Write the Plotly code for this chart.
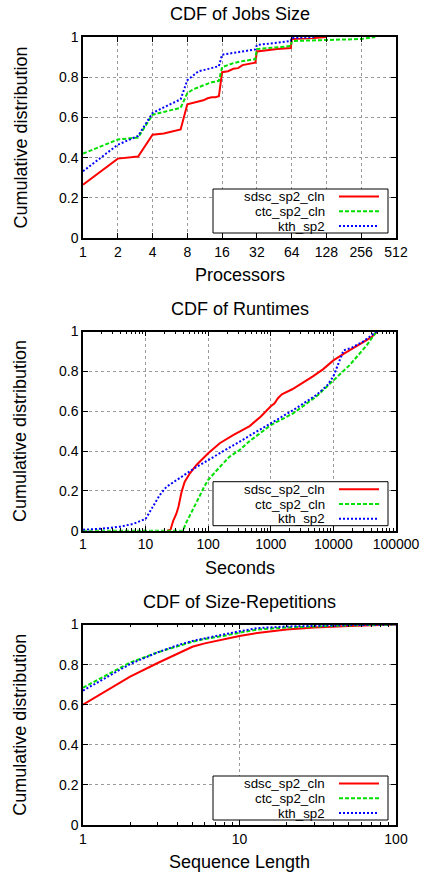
import math
import plotly.graph_objects as go

W, H = 424, 873

# ---------------- data ----------------
series_names = ["sdsc_sp2_cln", "ctc_sp2_cln", "kth_sp2"]

# CDF of Jobs Size (processors)
size_sdsc_x = [1, 2, 3, 4, 5, 6, 7, 8, 9, 10, 11, 12, 13, 14, 15, 16, 17, 18, 20, 22, 24, 28, 31, 32, 40, 48, 63, 64, 100, 128]
size_sdsc_y = [0.265, 0.395, 0.405, 0.514, 0.52, 0.53, 0.54, 0.665, 0.672, 0.68, 0.685, 0.695, 0.70, 0.70, 0.705, 0.825,
               0.828, 0.83, 0.842, 0.845, 0.86, 0.868, 0.872, 0.928, 0.935, 0.94, 0.945, 0.99, 0.995, 1.0]
size_ctc_x = [1, 2, 3, 4, 5, 6, 7, 8, 9, 10, 11, 12, 13, 14, 15, 16, 18, 20, 24, 28, 31, 32, 48, 63, 64, 128, 256, 338]
size_ctc_y = [0.42, 0.49, 0.50, 0.613, 0.627, 0.64, 0.648, 0.72, 0.74, 0.75, 0.76, 0.77, 0.775, 0.778, 0.782, 0.85,
              0.86, 0.87, 0.88, 0.885, 0.89, 0.94, 0.95, 0.955, 0.98, 0.985, 0.99, 1.0]
size_kth_x = [1, 2, 3, 4, 5, 6, 7, 8, 9, 10, 11, 12, 13, 14, 15, 16, 20, 24, 28, 31, 32, 48, 63, 64, 80, 100]
size_kth_y = [0.332, 0.464, 0.508, 0.622, 0.65, 0.672, 0.69, 0.785, 0.81, 0.83, 0.835, 0.84, 0.845, 0.848, 0.855, 0.912,
              0.92, 0.93, 0.935, 0.938, 0.96, 0.97, 0.98, 0.995, 0.998, 1.0]

# CDF of Runtimes (seconds)
rt_sdsc_x = [22, 25, 27.6, 31, 33.5, 37.6, 42, 51, 65, 100, 153, 250, 460, 700, 1000, 1150, 1300, 1500, 2200, 3200,
             4700, 6800, 10000, 15000, 25000, 40000, 50000]
rt_sdsc_y = [0.0, 0.005, 0.05, 0.085, 0.12, 0.195, 0.245, 0.288, 0.33, 0.389, 0.439, 0.48, 0.525, 0.575, 0.625,
             0.64, 0.665, 0.685, 0.71, 0.74, 0.775, 0.81, 0.855, 0.89, 0.93, 0.97, 1.0]
rt_ctc_x = [1, 39.5, 44, 50, 60, 72, 86, 100, 153, 220, 317, 460, 1000, 2300, 5400, 10000, 18000, 34000, 49000]
rt_ctc_y = [0.0, 0.0, 0.037, 0.07, 0.12, 0.17, 0.22, 0.255, 0.32, 0.372, 0.405, 0.45, 0.53, 0.59, 0.675, 0.755, 0.83,
            0.93, 1.0]
rt_kth_x = [1, 2, 3.9, 6.3, 10, 13.2, 16.9, 21.5, 31, 44, 65, 100, 317, 1000, 2300, 5400, 8000, 10000, 12000,
            14500, 20000, 30000, 49000]
rt_kth_y = [0.005, 0.01, 0.02, 0.034, 0.059, 0.12, 0.18, 0.22, 0.255, 0.285, 0.32, 0.355, 0.447, 0.54,
            0.606, 0.682, 0.73, 0.775, 0.84, 0.905, 0.92, 0.95, 1.0]

# CDF of Size-Repetitions (sequence length)
rep_x = [1, 2, 3, 4, 5, 6, 7, 8, 10, 13, 20, 30, 50, 100]
rep_sdsc_y = [0.6, 0.74, 0.808, 0.853, 0.889, 0.906, 0.918, 0.926, 0.943, 0.958, 0.975, 0.985, 0.993, 1.0]
rep_ctc_y = [0.685, 0.81, 0.861, 0.893, 0.914, 0.928, 0.936, 0.944, 0.959, 0.975, 0.985, 0.99, 0.996, 1.0]
rep_kth_y = [0.67, 0.803, 0.861, 0.896, 0.918, 0.932, 0.943, 0.951, 0.966, 0.982, 0.99, 0.994, 0.997, 1.0]

titles = ["CDF of Jobs Size", "CDF of Runtimes", "CDF of Size-Repetitions"]
xtitles = ["Processors", "Seconds", "Sequence Length"]
ytitle = "Cumulative distribution"

size_ticks = [1, 2, 4, 8, 16, 32, 64, 128, 256, 512]
rt_ticks = [1, 10, 100, 1000, 10000, 100000]
rep_ticks = [1, 10, 100]
y_ticks = [0, 0.2, 0.4, 0.6, 0.8, 1]

# ---------------- styles ----------------
FONT = "Liberation Sans, Arial, Helvetica, sans-serif"
colors = ["#ff0000", "#00e000", "#0000ff"]
dashes = ["solid", "4px,2px", "2px,2px"]
LW = 2

# plot boxes in pixels (left, right, top, bottom)
px_left, px_right = 83, 396
boxes = [(37, 238), (331.5, 530.7), (624.5, 825)]


def fx(px):
    return px / W


def fy(py):
    return 1 - py / H


fig = go.Figure()

panels = [
    ([size_sdsc_x, size_ctc_x, size_kth_x], [size_sdsc_y, size_ctc_y, size_kth_y], size_ticks, [1, 512], False),
    ([rt_sdsc_x, rt_ctc_x, rt_kth_x], [rt_sdsc_y, rt_ctc_y, rt_kth_y], rt_ticks, [1, 100000], True),
    ([rep_x, rep_x, rep_x], [rep_sdsc_y, rep_ctc_y, rep_kth_y], rep_ticks, [1, 100], True),
]

annotations = []
shapes = []

for i, (xs, ys, xt, xr, minor) in enumerate(panels):
    n = i + 1
    xa = "x" if n == 1 else f"x{n}"
    ya = "y" if n == 1 else f"y{n}"
    top, bot = boxes[i]
    for k in range(3):
        fig.add_trace(go.Scatter(
            x=xs[k], y=ys[k], mode="lines", name=series_names[k],
            line=dict(color=colors[k], width=LW, dash=dashes[k]),
            xaxis=xa, yaxis=ya, showlegend=False,
        ))
    minor_vals = []
    if minor:
        d = 1
        while d < xr[1]:
            for m in range(2, 10):
                minor_vals.append(d * m)
            d *= 10
    xaxis = dict(
        type="log", domain=[fx(px_left), fx(px_right)],
        range=[math.log10(xr[0]), math.log10(xr[1])],
        tickmode="array", tickvals=xt, ticktext=[str(v) for v in xt],
        ticks="inside", ticklen=5, tickcolor="black", tickwidth=1,
        showline=True, linecolor="black", linewidth=1.5, mirror="allticks",
        showgrid=True, gridcolor="#9a9a9a", griddash="dot", gridwidth=1,
        tickfont=dict(family=FONT, size=14, color="black"),
        anchor=ya, zeroline=False, fixedrange=True, automargin=False,
    )
    if minor:
        xaxis["minor"] = dict(tickmode="array", tickvals=minor_vals, ticks="inside", ticklen=3,
                              tickcolor="black", showgrid=False)
    yaxis = dict(
        domain=[fy(bot), fy(top)], range=[0, 1],
        tickmode="array", tickvals=y_ticks,
        ticks="inside", ticklen=5, tickcolor="black", tickwidth=1,
        showline=True, linecolor="black", linewidth=1.5, mirror="allticks",
        showgrid=True, gridcolor="#9a9a9a", griddash="dot", gridwidth=1,
        tickfont=dict(family=FONT, size=14, color="black"),
        anchor=xa, zeroline=False, fixedrange=True, automargin=False,
    )
    fig.update_layout(**{("xaxis" if n == 1 else f"xaxis{n}"): xaxis,
                         ("yaxis" if n == 1 else f"yaxis{n}"): yaxis})

    # titles
    annotations.append(dict(text=titles[i], x=fx((px_left + px_right) / 2), y=fy(top - 23),
                            xref="paper", yref="paper", showarrow=False, xanchor="center", yanchor="middle",
                            font=dict(family=FONT, size=18, color="black")))
    annotations.append(dict(text=xtitles[i], x=fx((px_left + px_right) / 2), y=fy(bot + 37),
                            xref="paper", yref="paper", showarrow=False, xanchor="center", yanchor="middle",
                            font=dict(family=FONT, size=18, color="black")))
    annotations.append(dict(text=ytitle, x=fx(20), y=fy((top + bot) / 2), textangle=-90,
                            xref="paper", yref="paper", showarrow=False, xanchor="center", yanchor="middle",
                            font=dict(family=FONT, size=18, color="black")))

    # legend (gnuplot style: text right-aligned, sample on the right)
    lg_l, lg_r = 213, 388
    lg_b = bot - 5
    lg_t = lg_b - 44
    shapes.append(dict(type="rect", xref="paper", yref="paper", x0=fx(lg_l), x1=fx(lg_r), y0=fy(lg_b), y1=fy(lg_t),
                       line=dict(color="black", width=1), fillcolor="white", layer="above"))
    for k in range(3):
        ry = lg_t + 7.5 + k * 14.8
        annotations.append(dict(text=series_names[k], x=fx(326), y=fy(ry), xref="paper", yref="paper",
                                showarrow=False, xanchor="right", yanchor="middle", borderpad=0,
                                font=dict(family=FONT, size=13.3, color="black")))
        shapes.append(dict(type="line", xref="paper", yref="paper", x0=fx(339), x1=fx(379), y0=fy(ry), y1=fy(ry),
                           line=dict(color=colors[k], width=LW, dash=dashes[k]), layer="above"))

fig.update_layout(
    template="none",
    width=W, height=H, margin=dict(l=0, r=0, t=0, b=0, autoexpand=False),
    paper_bgcolor="white", plot_bgcolor="white",
    showlegend=False, annotations=annotations, shapes=shapes,
    font=dict(family=FONT, color="black"),
)

fig.write_html("out.html", config={"displayModeBar": False},
               post_script="document.body.style.margin='0';document.body.style.overflow='hidden';")
